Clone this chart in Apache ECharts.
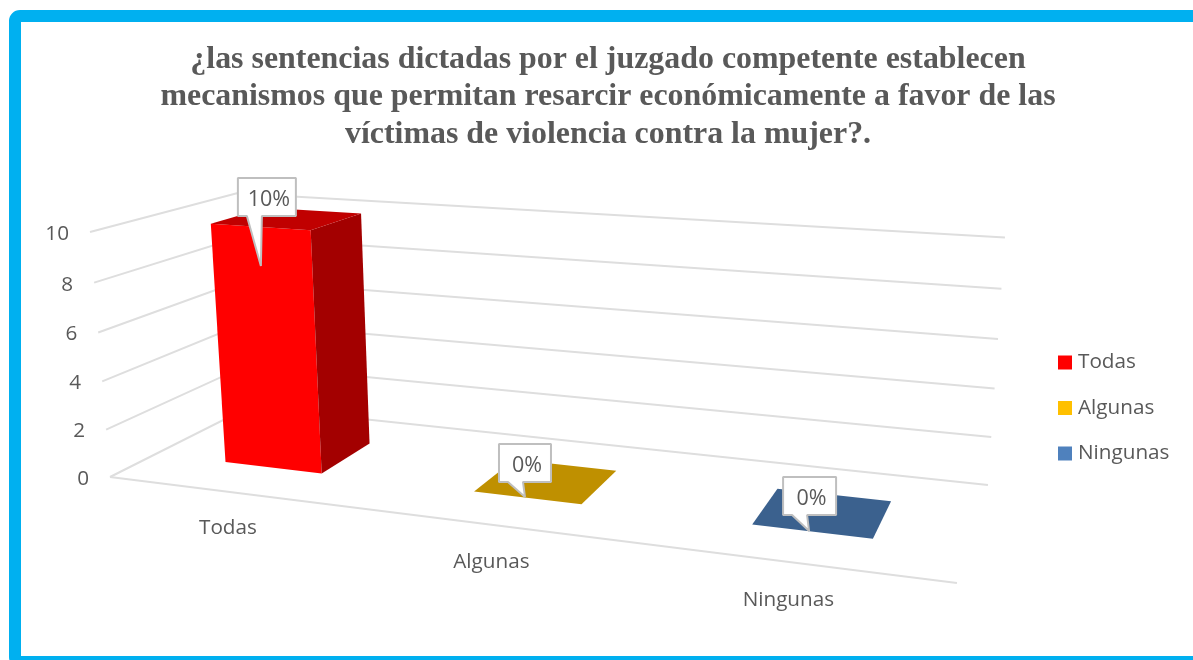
<!DOCTYPE html>
<html>
<head>
<meta charset="utf-8">
<style>
  html, body { margin: 0; padding: 0; background: #fff; overflow: hidden; }
  #main { width: 1193px; height: 660px; }
</style>
<script src="https://cdn.jsdelivr.net/npm/echarts@6/dist/echarts.min.js"></script>
</head>
<body>
<div id="main"></div>
<script>
const titleLines = [
  '¿las sentencias dictadas por el juzgado competente establecen',
  'mecanismos que permitan resarcir económicamente a favor de las',
  'víctimas de violencia contra la mujer?.'
];
const categories = ['Todas', 'Algunas', 'Ningunas'];
const values = [10, 0, 0];
const yTicks = [0, 2, 4, 6, 8, 10];

const frontColors = ['#FF0000', '#FFC000', '#4F81BD'];
const topColors = ['#C00000', '#BF9000', '#3B618E'];
const sideColors = ['#A30000', '#997300', '#2F4E72'];

// hand placed callouts, offsets from the centre of the bar top
const calloutLeft = [-49.5, -47.6, -40];
const calloutTop = [-40.7, -37, -35.6];
const calloutWidth = [58, 52, 53];
const calloutTipX = [-26.5, -21.6, -14];
const calloutTipY = [47.3, 16, 18.4];

const textColor = '#595959';
const gridColor = '#DEDEDE';
const labelFont = '20.7px "Open Sans"';

// hidden flat grid, its pixels get projected to the 3d view below
const grid = { left: 100, top: 100, width: 900, height: 400 };

// perspective of the excel 3d view: floor corners + top of the walls
const x0 = 110, y0 = 477;
const pg = -0.1639, ph = 0.153, pk = -0.0402;
const ax = 690.1, bx = 177.1, cx = -23.6;
const ay = 10.4, by = -7.7, cy = -254.3;

function project(u, v, d) {
  const w = pg * u + ph * d + pk * v + 1;
  return [
    (ax * u + bx * d + cx * v + x0) / w,
    (ay * u + by * d + cy * v + y0) / w
  ];
}
const toU = (px) => (px - grid.left) / grid.width;
const toV = (py) => (grid.top + grid.height - py) / grid.height;

// gapWidth 150% in both directions like the excel chart
const barShare = 1 / 2.5;
const dFront = 0.5 - barShare / 2;
const dBack = 0.5 + barShare / 2;

function line(points) {
  return {
    type: 'polyline',
    shape: { points },
    style: { stroke: gridColor, lineWidth: 2, fill: null }
  };
}

function text(str, x, y, align, font) {
  return {
    type: 'text',
    style: { text: str, x, y, fill: textColor, font: font || labelFont, align, verticalAlign: 'middle' }
  };
}

const renderWalls = (params, api) => {
  const tick = api.value(0);
  const v = toV(api.coord([0, tick])[1]);
  const front = project(0, v, 0);
  const children = [
    line([front, project(0, v, 1), project(1, v, 1)]),
    text(String(tick), front[0] - 21, front[1] + 2, 'right')
  ];
  if (tick === 0) {
    children.push(line([project(0, 0, 0), project(1, 0, 0)]));
  }
  return { type: 'group', children };
};

const renderBar = (i) => (params, api) => {
  const p = api.coord([i, api.value(1)]);
  const half = api.size([1, 0])[0] * barShare / 2 / grid.width;
  const u = toU(p[0]);
  const v = toV(p[1]);
  const uL = u - half, uR = u + half;
  const children = [];
  if (v > 0) {
    children.push({
      type: 'polygon',
      shape: { points: [project(uL, 0, dFront), project(uR, 0, dFront), project(uR, v, dFront), project(uL, v, dFront)] },
      style: { fill: frontColors[i] }
    });
    children.push({
      type: 'polygon',
      shape: { points: [project(uR, 0, dFront), project(uR, 0, dBack), project(uR, v, dBack), project(uR, v, dFront)] },
      style: { fill: sideColors[i] }
    });
  }
  children.push({
    type: 'polygon',
    shape: { points: [project(uL, v, dFront), project(uR, v, dFront), project(uR, v, dBack), project(uL, v, dBack)] },
    style: { fill: topColors[i] }
  });

  // callout with the value
  const anchor = project(u, v, 0.5);
  const l = anchor[0] + calloutLeft[i];
  const t = anchor[1] + calloutTop[i];
  const r = l + calloutWidth[i];
  const b = t + 38;
  children.push({
    type: 'polygon',
    shape: {
      points: [
        [l, t], [r, t], [r, b], [l + 24, b],
        [anchor[0] + calloutTipX[i], anchor[1] + calloutTipY[i]],
        [l + 9, b], [l, b]
      ]
    },
    style: { fill: '#fff', stroke: '#BFBFBF', lineWidth: 2, lineJoin: 'bevel' }
  });
  children.push(text(api.value(1) + '%', (l + r) / 2 + 2, (t + b) / 2 + 3, 'center', '21.5px "Open Sans"'));

  // category label under the front edge of the floor
  const base = project(u, 0, 0);
  children.push(text(categories[i], base[0] - 3 - u * 2.5, base[1] + 36 + u * 2.5, 'center'));
  return { type: 'group', children };
};

const myChart = echarts.init(document.getElementById('main'), null, { renderer: 'canvas' });

const option = {
  animation: false,
  backgroundColor: '#fff',
  graphic: [
    {
      type: 'rect',
      z: -1,
      shape: { x: 15, y: 16, width: 1300, height: 646, r: 5 },
      style: { fill: '#fff', stroke: '#00B0F0', lineWidth: 12 }
    },
    {
      type: 'text',
      z: 5,
      style: {
        text: titleLines.join('\n'),
        x: 608,
        y: 41,
        align: 'center',
        fill: textColor,
        font: 'bold 31.9px "Liberation Serif"',
        lineHeight: 37.5
      }
    }
  ],
  grid,
  xAxis: { type: 'category', data: categories, show: false },
  yAxis: { type: 'value', min: 0, max: 10, interval: 2, show: false },
  legend: {
    orient: 'vertical',
    left: 1053,
    top: 347,
    icon: 'rect',
    itemWidth: 14,
    itemHeight: 14,
    itemGap: 24.5,
    selectedMode: false,
    data: categories,
    textStyle: { color: textColor, fontFamily: 'Open Sans', fontSize: 20.7, padding: [0, 0, 0, 1] }
  },
  series: [
    {
      type: 'custom',
      name: 'walls',
      z: 1,
      silent: true,
      renderItem: renderWalls,
      data: yTicks.map((t) => [t])
    },
    ...categories.map((name, i) => ({
      type: 'custom',
      name,
      z: 2 + i,
      silent: true,
      itemStyle: { color: frontColors[i] },
      renderItem: renderBar(i),
      data: [[i, values[i]]]
    }))
  ]
};

myChart.setOption(option);
</script>
</body>
</html>
